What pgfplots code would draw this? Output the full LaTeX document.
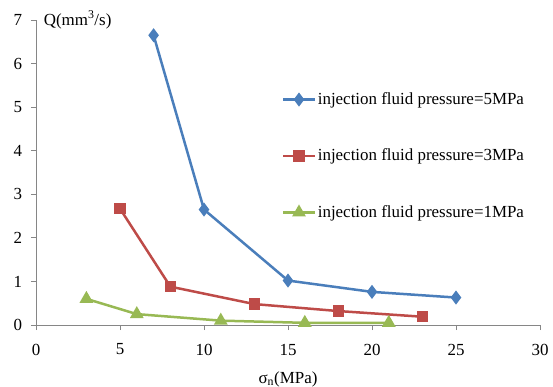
\documentclass[border=0pt]{standalone}
\usepackage{pgfplots}
\pgfplotsset{compat=1.18}
\usepackage{fontspec}
\setmainfont{Liberation Serif}
\definecolor{cblue}{HTML}{4A7EBB}
\definecolor{cred}{HTML}{BE4B48}
\definecolor{cgreen}{HTML}{98B954}
\definecolor{axgray}{HTML}{868686}
\begin{document}
\fontsize{17}{20}\selectfont
\begin{tikzpicture}
\path[use as bounding box] (-36bp,-62bp) rectangle (517bp,325bp);
\begin{axis}[
  scale only axis,
  width=504bp, height=305bp,
  xmin=0, xmax=30, ymin=0, ymax=7,
  xtick={0,5,...,30}, ytick={0,1,...,7},
  axis x line=bottom, axis y line=left,
  axis line style={axgray, line width=0.8pt, -},
  tick style={axgray, line width=0.8pt},
  tick align=outside, major tick length=5bp,
  xtick pos=bottom, ytick pos=left,
  /pgf/number format/assume math mode=true,
  tick label style={font=\fontsize{17}{20}\selectfont},
  xticklabel style={yshift=-8bp},
  yticklabel style={xshift=-3bp},
  xlabel={σ\textsubscript{n}(MPa)},
  xlabel style={font=\fontsize{17}{20}\selectfont, at={(rel axis cs:0.5,0)}, anchor=center, yshift=-54bp},
  ylabel={Q(mm\textsuperscript{3}/s)},
  ylabel style={font=\fontsize{17}{20}\selectfont, rotate=-90, at={(rel axis cs:0,1)}, anchor=west, xshift=2bp, yshift=0bp},
  legend style={draw=none, fill=none, at={(rel axis cs:0.488,0.77)}, anchor=north west,
    row sep=38bp, font=\fontsize{17}{20}\selectfont, inner sep=0pt},
  legend cell align=left,
  legend image code/.code={\draw[mark repeat=2,mark phase=2] plot coordinates {(0,0)(0.55cm,0)(1.1cm,0)};},
  every axis plot/.append style={line width=2.5bp},
]
\addplot[cblue, mark=diamond*, mark size=5bp, mark options={solid}] coordinates {(7,6.65)(10,2.65)(15,1.02)(20,0.76)(25,0.63)};
\addlegendentry{injection fluid pressure=5MPa}
\addplot[cred, mark=square*, mark size=4.5bp] coordinates {(5,2.67)(8,0.88)(13,0.48)(18,0.32)(23,0.19)};
\addlegendentry{injection fluid pressure=3MPa}
\addplot[cgreen, mark=triangle*, mark size=5.5bp] coordinates {(3,0.6)(6,0.25)(11,0.1)(16,0.05)(21,0.05)};
\addlegendentry{injection fluid pressure=1MPa}
\end{axis}
\end{tikzpicture}
\end{document}
